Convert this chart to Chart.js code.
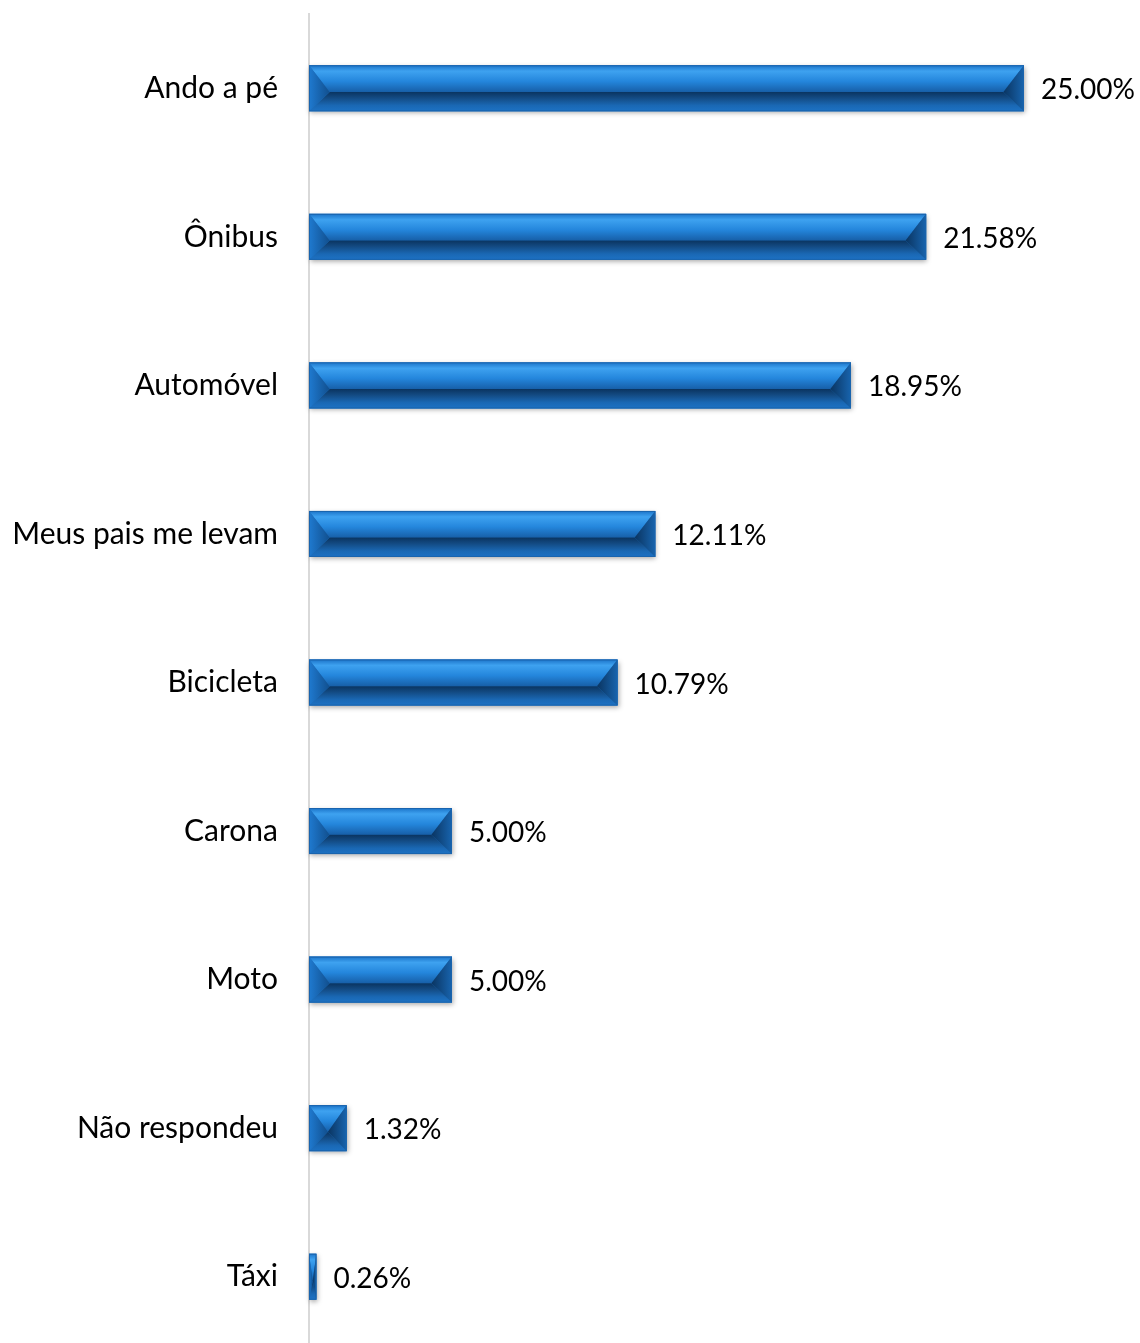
<!DOCTYPE html>
<html>
<head>
<meta charset="utf-8">
<script src="https://cdn.jsdelivr.net/npm/chart.js@4"></script>
<style>
  html, body { margin: 0; padding: 0; background: #fff; overflow: hidden; }
  #wrap { width: 1140px; height: 1351px; position: relative; }
</style>
</head>
<body>
<div id="wrap"><canvas id="grafico"></canvas></div>
<script>
// categorias e valores (%)
const categorias = ["Ando a pé", "Ônibus", "Automóvel", "Meus pais me levam", "Bicicleta", "Carona", "Moto", "Não respondeu", "Táxi"];
const valores = [25.00, 21.58, 18.95, 12.11, 10.79, 5.00, 5.00, 1.32, 0.26];
const rotulos = ["25.00%", "21.58%", "18.95%", "12.11%", "10.79%", "5.00%", "5.00%", "1.32%", "0.26%"];

const fonte = "Lato, 'Open Sans', sans-serif";

// desenha cada barra com efeito de chanfro
const barrasChanfradas = {
  id: "barrasChanfradas",
  afterDatasetsDraw(chart) {
    const ctx = chart.ctx;
    const meta = chart.getDatasetMeta(0);
    meta.data.forEach((bar, i) => {
      const p = bar.getProps(["x", "y", "base", "height"], true);
      const x0 = Math.min(p.base, p.x), x1 = Math.max(p.base, p.x);
      const y0 = p.y - p.height / 2, y1 = p.y + p.height / 2;
      const ym = y0 + p.height * 0.58;
      const b = Math.min(p.height * 0.45, (x1 - x0) / 2);

      ctx.save();
      // sombra
      ctx.shadowColor = "rgba(0,0,0,0.35)";
      ctx.shadowBlur = 5;
      ctx.shadowOffsetX = 1;
      ctx.shadowOffsetY = 2;
      ctx.fillStyle = "#1a6fc0";
      ctx.fillRect(x0, y0, x1 - x0, y1 - y0);
      ctx.restore();

      ctx.save();
      // parte de cima
      let g = ctx.createLinearGradient(0, y0, 0, ym);
      g.addColorStop(0, "#1b73c8");
      g.addColorStop(0.22, "#3ea2f0");
      g.addColorStop(0.6, "#2486dc");
      g.addColorStop(1, "#175fa8");
      ctx.fillStyle = g;
      ctx.beginPath();
      ctx.moveTo(x0, y0); ctx.lineTo(x1, y0); ctx.lineTo(x1 - b, ym); ctx.lineTo(x0 + b, ym);
      ctx.closePath(); ctx.fill();

      // parte de baixo
      g = ctx.createLinearGradient(0, ym, 0, y1);
      g.addColorStop(0, "#0a3460");
      g.addColorStop(0.3, "#134a82");
      g.addColorStop(0.7, "#1a68b4");
      g.addColorStop(1, "#1d72c4");
      ctx.fillStyle = g;
      ctx.beginPath();
      ctx.moveTo(x0 + b, ym); ctx.lineTo(x1 - b, ym); ctx.lineTo(x1, y1); ctx.lineTo(x0, y1);
      ctx.closePath(); ctx.fill();

      // ponta esquerda
      g = ctx.createLinearGradient(x0, 0, x0 + b, 0);
      g.addColorStop(0, "#1f7ad0");
      g.addColorStop(1, "#114f8e");
      ctx.fillStyle = g;
      ctx.beginPath();
      ctx.moveTo(x0, y0); ctx.lineTo(x0 + b, ym); ctx.lineTo(x0, y1);
      ctx.closePath(); ctx.fill();

      // ponta direita
      g = ctx.createLinearGradient(x1 - b, 0, x1, 0);
      g.addColorStop(0, "#0a3460");
      g.addColorStop(1, "#1864ae");
      ctx.fillStyle = g;
      ctx.beginPath();
      ctx.moveTo(x1, y0); ctx.lineTo(x1 - b, ym); ctx.lineTo(x1, y1);
      ctx.closePath(); ctx.fill();

      ctx.strokeStyle = "#1a64ad";
      ctx.lineWidth = 1;
      ctx.strokeRect(x0 + 0.5, y0 + 0.5, x1 - x0 - 1, y1 - y0 - 1);

      // rotulo do valor
      ctx.fillStyle = "#000";
      ctx.font = "28px " + fonte;
      ctx.textAlign = "left";
      ctx.textBaseline = "middle";
      ctx.fillText(rotulos[i], x1 + 17, p.y + 2);
      ctx.restore();
    });
  }
};

new Chart(document.getElementById("grafico"), {
  type: "bar",
  data: {
    labels: categorias,
    datasets: [{
      data: valores,
      backgroundColor: "rgba(0,0,0,0)",
      borderWidth: 0,
      barThickness: 46
    }]
  },
  options: {
    indexAxis: "y",
    responsive: true,
    maintainAspectRatio: false,
    animation: false,
    layout: { padding: { top: 14, right: 116, bottom: 0, left: 0 } },
    plugins: { legend: { display: false }, tooltip: { enabled: false } },
    scales: {
      x: {
        min: 0,
        max: 25,
        display: false
      },
      y: {
        grid: { display: false, drawTicks: false },
        border: { display: true, color: "#d9d9d9", width: 2 },
        ticks: {
          color: "#000",
          padding: 31,
          font: { family: fonte, size: 30 }
        },
        afterFit(scale) {
          scale.width = 309;
          scale.paddingTop = 0;
          scale.paddingBottom = 0;
        }
      }
    }
  },
  plugins: [barrasChanfradas]
});
</script>
</body>
</html>
